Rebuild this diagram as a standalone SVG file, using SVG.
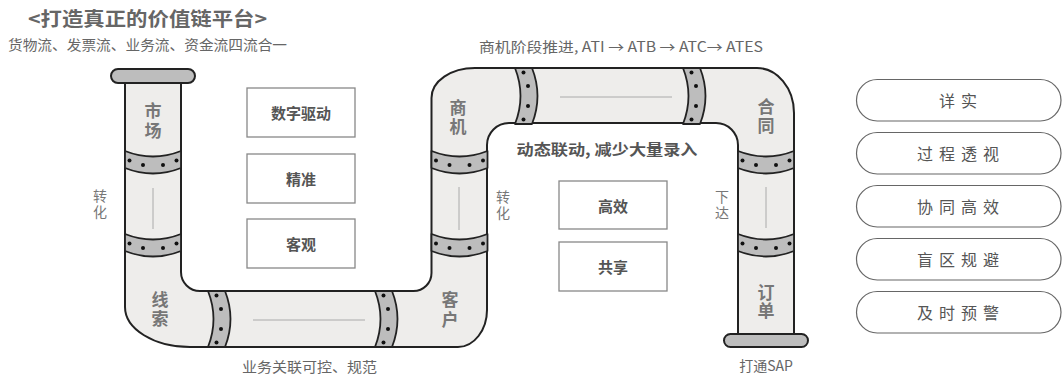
<svg xmlns="http://www.w3.org/2000/svg" width="1062" height="374" viewBox="0 0 1062 374">
  <style>
    text { font-family: "Noto Sans CJK SC", "Noto Sans", sans-serif; }
    .title { font-size: 19px; font-weight: bold; fill: #666; }
    .note { font-size: 14px; fill: #666; }
    .vert { writing-mode: vertical-rl; text-orientation: upright; }
    .side { font-size: 14px; fill: #777; letter-spacing: 2px; }
    .pipe-label { font-size: 17px; font-weight: bold; fill: #777; }
    .box { fill: #fff; stroke: #888; stroke-width: 1.3; }
    .box-label { font-size: 15px; font-weight: bold; fill: #555; text-anchor: middle; dominant-baseline: central; }
    .pill { fill: #fff; stroke: #666; stroke-width: 1.2; }
    .pill-label { font-size: 16px; fill: #555; text-anchor: middle; dominant-baseline: central; letter-spacing: 6px; }
    .pipe { fill: #eeedeb; stroke: #222; stroke-width: 2; stroke-linejoin: round; }
    .band { fill: #bdbdbd; stroke: #222; stroke-width: 1.8; stroke-linejoin: round; }
    .cap { fill: #bdbdbd; stroke: #222; stroke-width: 2; }
    .mid { stroke: #aaa; stroke-width: 1; fill: none; }
    .dot { fill: #111; }
  </style>
  <defs>
    <!-- clamp band across a vertical pipe (56 wide) -->
    <g id="hband">
      <path class="band" d="M0,0 Q28,11 56,0 L56,17 Q28,28 0,17 Z"/>
      <circle class="dot" cx="4.5" cy="9.5" r="2"/>
      <circle class="dot" cx="18" cy="14" r="2"/>
      <circle class="dot" cx="38" cy="14" r="2"/>
      <circle class="dot" cx="51.5" cy="9.5" r="2"/>
    </g>
    <!-- clamp band across a horizontal pipe (56 tall) -->
    <g id="vband">
      <path class="band" d="M0,0 Q11,28 0,56 L17,56 Q28,28 17,0 Z"/>
      <circle class="dot" cx="8.5" cy="4.5" r="2"/>
      <circle class="dot" cx="13" cy="18" r="2"/>
      <circle class="dot" cx="13" cy="38" r="2"/>
      <circle class="dot" cx="8.5" cy="51.5" r="2"/>
    </g>
  </defs>

  <!-- headings -->
  <text class="title" x="28" y="26" textLength="239" lengthAdjust="spacingAndGlyphs">&lt;打造真正的价值链平台&gt;</text>
  <text class="note" x="8" y="50" textLength="279" lengthAdjust="spacingAndGlyphs">货物流、发票流、业务流、资金流四流合一</text>
  <text class="note" x="479" y="52" textLength="284" lengthAdjust="spacingAndGlyphs">商机阶段推进, ATI → ATB → ATC→ ATES</text>
  <text class="note" x="242" y="372" textLength="135" lengthAdjust="spacingAndGlyphs">业务关联可控、规范</text>
  <text class="note" x="766" y="371" text-anchor="middle">打通SAP</text>

  <!-- the pipeline -->
  <g id="pipeline">
    <path class="pipe" d="M125,83 L125,307 C125,329 154,347 190,347 L458,347 C474,347 487,330 487,310 L487,145 A22,22 0 0 1 509,123 L716,123 A22,22 0 0 1 738,145 L738,334 L794,334 L794,113 C794,88 777,68 757,68 L475,68 C451,68 431.5,81 431.5,98 L431.5,273 A18,18 0 0 1 413.5,291 L200,291 A19,19 0 0 1 181,272 L181,83 Z"/>

    <!-- centre guide lines -->
    <line class="mid" x1="153" y1="188" x2="153" y2="229"/>
    <line class="mid" x1="253" y1="320" x2="365" y2="320"/>
    <line class="mid" x1="459" y1="187" x2="459" y2="230"/>
    <line class="mid" x1="560" y1="97" x2="672" y2="97"/>
    <line class="mid" x1="766" y1="187" x2="766" y2="228"/>

    <!-- clamp bands -->
    <use href="#hband" x="125" y="151"/>
    <use href="#hband" x="125" y="234"/>
    <use href="#hband" x="431.5" y="151"/>
    <use href="#hband" x="431.5" y="234"/>
    <use href="#hband" x="738" y="151"/>
    <use href="#hband" x="738" y="234"/>
    <use href="#vband" x="208" y="291"/>
    <use href="#vband" x="375" y="291"/>
    <use href="#vband" x="515" y="68"/>
    <use href="#vband" x="683" y="68"/>

    <!-- end caps -->
    <rect class="cap" x="111" y="69" width="84" height="14" rx="7"/>
    <rect class="cap" x="724" y="334" width="84" height="13" rx="6.5"/>
  </g>

  <!-- pipe stage labels, set vertically -->
  <g id="stage-market"><text class="pipe-label vert" x="153" y="102" letter-spacing="3">市场</text></g>
  <g id="stage-lead"><text class="pipe-label vert" x="160" y="291" letter-spacing="2">线索</text></g>
  <g id="stage-customer"><text class="pipe-label vert" x="450" y="291" letter-spacing="3">客户</text></g>
  <g id="stage-opportunity"><text class="pipe-label vert" x="458" y="99" letter-spacing="2">商机</text></g>
  <g id="stage-contract"><text class="pipe-label vert" x="766" y="98" letter-spacing="2">合同</text></g>
  <g id="stage-order"><text class="pipe-label vert" x="766" y="284" letter-spacing="1">订单</text></g>

  <!-- side notes -->
  <g id="note-convert-1"><text class="side vert" x="100" y="189">转化</text></g>
  <g id="note-convert-2"><text class="side vert" x="503" y="190">转化</text></g>
  <g id="note-issue"><text class="side vert" x="722" y="190">下达</text></g>

  <!-- left value boxes -->
  <g id="box-digital"><rect class="box" x="247" y="88" width="108" height="49"/><text class="box-label" x="301" y="112.5">数字驱动</text></g>
  <g id="box-precise"><rect class="box" x="247" y="154" width="108" height="49"/><text class="box-label" x="301" y="178.5">精准</text></g>
  <g id="box-objective"><rect class="box" x="247" y="219" width="108" height="49"/><text class="box-label" x="301" y="243.5">客观</text></g>

  <!-- centre panel -->
  <g id="panel-title"><text class="box-label" x="607" y="148" font-size="16.5" textLength="181" lengthAdjust="spacingAndGlyphs">动态联动, 减少大量录入</text></g>
  <g id="box-efficient"><rect class="box" x="559" y="181" width="108" height="48"/><text class="box-label" x="613" y="205">高效</text></g>
  <g id="box-shared"><rect class="box" x="559" y="242" width="108" height="49"/><text class="box-label" x="613" y="266.5">共享</text></g>

  <!-- right outcome pills -->
  <g id="pill-1"><rect class="pill" x="856.5" y="79.5" width="204.5" height="41.5" rx="20.75"/><text class="pill-label" x="961" y="100">详实</text></g>
  <g id="pill-2"><rect class="pill" x="856.5" y="132.5" width="204.5" height="41.5" rx="20.75"/><text class="pill-label" x="961" y="153">过程透视</text></g>
  <g id="pill-3"><rect class="pill" x="856.5" y="185.5" width="204.5" height="41.5" rx="20.75"/><text class="pill-label" x="961" y="206">协同高效</text></g>
  <g id="pill-4"><rect class="pill" x="856.5" y="238.5" width="204.5" height="41.5" rx="20.75"/><text class="pill-label" x="961" y="259">盲区规避</text></g>
  <g id="pill-5"><rect class="pill" x="856.5" y="291.5" width="204.5" height="41.5" rx="20.75"/><text class="pill-label" x="961" y="312">及时预警</text></g>
</svg>
